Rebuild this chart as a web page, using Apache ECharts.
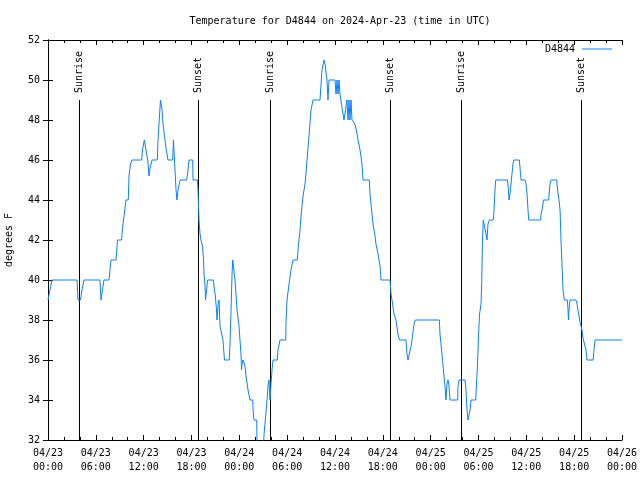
<!DOCTYPE html>
<html>
<head>
<meta charset="utf-8">
<script src="https://cdn.jsdelivr.net/npm/echarts@6/dist/echarts.min.js"></script>
<style>html,body{margin:0;padding:0;background:#fff}#c{width:640px;height:480px}</style>
</head>
<body>
<div id="c"></div>
<script>
// Hours since 2024-04-23 00:00 UTC
var hours = [0,0.25,0.5,3.64,3.76,4.08,4.26,4.52,6.52,6.65,6.84,7.02,7.65,7.90,8.53,8.72,9.22,9.41,9.66,9.78,
10.07,10.16,10.35,10.54,11.75,11.85,12.08,12.29,12.51,12.67,12.80,13.05,13.71,13.80,13.92,14.11,14.30,14.43,14.61,14.80,
15.05,15.64,15.74,15.93,16.06,16.18,16.31,16.56,17.40,17.56,17.69,18.15,18.19,18.73,18.82,18.88,18.94,19.07,19.19,19.38,
19.51,19.57,19.69,19.76,19.88,20.01,20.74,20.82,20.99,21.14,21.20,21.32,21.45,21.58,21.95,22.08,22.14,22.74,22.83,22.96,
23.08,23.17,23.33,23.46,23.71,23.96,24.08,24.21,24.27,24.34,24.46,24.71,24.84,25.09,25.34,25.68,25.72,25.84,26.18,26.22,
26.34,26.97,27.10,27.35,27.47,27.60,27.72,27.85,27.97,28.10,28.22,28.76,28.85,29.10,29.82,29.85,29.98,30.23,30.48,30.73,
31.27,31.36,31.61,31.74,31.86,31.99,32.24,32.36,32.49,32.80,32.99,33.24,34.12,34.25,34.37,34.62,34.75,34.87,35.00,35.12,
35.25,36.00,36.13,36.25,36.38,36.50,36.63,36.88,37.00,37.13,37.38,37.50,37.63,37.76,37.88,38.01,38.13,38.26,38.51,38.76,
38.89,39.14,39.39,39.51,40.30,40.39,40.64,40.77,41.02,41.14,41.40,41.52,41.65,41.77,42.90,43.03,43.15,43.28,43.40,43.65,
43.90,44.09,44.91,45.03,45.16,45.41,45.54,45.66,45.91,46.08,49.09,49.17,49.42,49.55,49.67,49.80,49.92,50.05,50.18,50.30,
50.43,51.39,51.43,51.56,52.31,52.43,52.56,52.69,52.81,52.94,53.06,53.65,53.75,53.88,54.00,54.13,54.32,54.41,54.50,54.60,
54.82,54.94,55.07,55.19,55.36,55.86,55.95,56.07,56.16,57.62,57.70,57.83,57.95,58.08,58.20,58.33,58.42,59.12,59.21,59.33,
59.84,59.96,60.09,60.21,60.30,61.80,61.84,61.97,62.09,62.13,62.81,62.85,62.97,63.10,63.81,63.85,63.98,64.10,64.23,64.35,
64.48,64.60,64.77,65.14,65.23,65.29,65.36,65.48,66.23,66.36,66.48,66.61,66.73,66.86,66.98,67.11,67.23,67.36,67.49,67.61,
68.37,68.49,68.62,72.0];
var temps = [39,39.5,40,40,39,39,39.5,40,40,39,39,40,40,41,41,42,42,42.8,43.6,44,
44,45.2,45.8,46,46,46.5,47,46.5,46,45.2,45.6,46,46,47,47.8,49,48.5,47.8,47.2,46.6,
46,46,47,45.5,44.5,44,44.5,45,45,45.5,46,46,45,45,44.5,43.7,43,42.3,42,41.7,
41,40.3,39.8,39,39.4,40,40,39.7,39.2,38.5,38,38.7,39,37.7,37,36.3,36,36,36.8,38.5,
40.2,41,41,40,38.5,37.7,37,36.3,35.5,35.8,36,35.7,35.2,34.5,34,34,33.5,33,33,32,
31,31,32.3,33.4,34,34.7,35,34,34.8,35.5,36,36,36.5,37,37,37.8,39,39.8,40.5,41,
41,41.5,42.5,43.2,43.7,44.2,44.8,45.3,46,47.5,48.5,49,49,49.8,50.5,51,50.8,50.4,50,49,
50,50,49.3,50,49.3,50,49.3,49.3,48.3,48,48,49,48,49,48,49,48,48,47.8,47.3,
47,46.5,45.8,45,45,44.3,43.3,42.8,42.2,41.8,41.3,41,40.7,40,40,39.3,39,39,38.3,38,
37.3,37,37,36.3,36,36,36.7,37,37.8,38,38,37.3,36.3,35.7,35.2,34.7,34,34.8,35,34.7,
34,34,34.7,35,35,34.5,33.5,33,33,33.5,34,34,34.8,35.8,37.2,38.3,38.8,40,42,43,
43,42.3,42,42.8,43,43,43.5,44.5,45,45,44.8,44,44.3,44.8,45.3,45.8,46,46,45.6,45,
45,44.8,44.3,43.5,43,43,43.3,43.5,43.8,44,44,44.3,44.8,45,45,44.8,44.3,44,43.5,42,
40.7,39.5,39,39,38.5,38,38.5,39,39,38.8,38.5,38.2,37.9,37.8,37.5,37.1,36.9,36.8,36.5,36,
36,36.5,37,37];
var sunHours = [3.89, 18.82, 27.85, 42.90, 51.81, 66.98];
var sunLabels = ['Sunrise','Sunset','Sunrise','Sunset','Sunrise','Sunset'];
var xTicks = [0, 72, 6];   // min, max, interval (hours)
var yTicks = [32, 52, 2];  // min, max, interval (degrees F)

var FONT = 'DejaVu Sans Mono';
function pad(n){return (n<10?'0':'')+n;}
function xLabel(v){
  var d = 23 + Math.floor(v/24);
  var hh = Math.round(v % 24);
  return '04/' + pad(d) + '\n' + pad(hh) + ':00';
}
var lineData = hours.map(function(h,i){return [h, temps[i]];});
var axisLine = {show:true, lineStyle:{color:'#000', width:1}};

var chart = echarts.init(document.getElementById('c'), null, {renderer:'canvas'});
chart.setOption({
  animation:false,
  backgroundColor:'#fff',
  title:{text:'Temperature for D4844 on 2024-Apr-23 (time in UTC)', left:335, top:11, textAlign:'center',
    textStyle:{fontFamily:FONT, fontSize:10, fontWeight:'normal', color:'#000'}},
  legend:{data:['D4844'], right:23, top:39, align:'right', icon:'rect', itemWidth:30, itemHeight:1,
    itemGap:5, textStyle:{fontFamily:FONT, fontSize:10, color:'#000', padding:[0,2,0,0]}},
  grid:{left:48, right:18, top:40, bottom:40, containLabel:false, outerBoundsMode:'none'},
  xAxis:[{type:'value', min:xTicks[0], max:xTicks[1], interval:xTicks[2], position:'bottom',
      axisLine:axisLine, splitLine:{show:false},
      axisTick:{show:true, inside:true, length:5, lineStyle:{color:'#000'}},
      minorTick:{show:true, splitNumber:3, length:3, lineStyle:{color:'#000'}},
      axisLabel:{formatter:xLabel, fontFamily:FONT, fontSize:10, color:'#000', margin:6, lineHeight:14}},
    {type:'value', min:xTicks[0], max:xTicks[1], interval:xTicks[2], position:'top',
      axisLine:axisLine, splitLine:{show:false}, axisLabel:{show:false},
      axisTick:{show:true, inside:true, length:5, lineStyle:{color:'#000'}},
      minorTick:{show:true, splitNumber:3, length:3, lineStyle:{color:'#000'}}}],
  yAxis:[{type:'value', min:yTicks[0], max:yTicks[1], interval:yTicks[2], position:'left',
      name:'degrees F', nameLocation:'middle', nameGap:34,
      nameTextStyle:{fontFamily:FONT, fontSize:10, color:'#000'},
      axisLine:axisLine, splitLine:{show:false},
      axisTick:{show:true, inside:true, length:5, lineStyle:{color:'#000'}},
      axisLabel:{fontFamily:FONT, fontSize:10, color:'#000', margin:8}},
    {type:'value', min:yTicks[0], max:yTicks[1], interval:yTicks[2], position:'right',
      axisLine:axisLine, splitLine:{show:false}, axisLabel:{show:false},
      axisTick:{show:true, inside:true, length:5, lineStyle:{color:'#000'}}}],
  series:[
    {name:'D4844', type:'line', data:lineData, showSymbol:false, symbol:'none',
      lineStyle:{color:'#0a80ff', width:1}, itemStyle:{color:'#0a80ff'}, clip:true, z:3},
    {name:'sun', type:'custom', clip:false, z:2,
      data:sunHours.map(function(h){return [h, 49];}),
      renderItem:function(params, api){
        var top = api.coord([api.value(0), api.value(1)]);
        var bot = api.coord([api.value(0), yTicks[0]]);
        var cx = Math.floor(top[0]) + 0.5;
        return {type:'group', children:[
          {type:'line', shape:{x1:cx, y1:Math.round(top[1]), x2:cx, y2:Math.round(bot[1])}, style:{stroke:'#000', lineWidth:1}},
          {type:'text', x:cx, y:top[1]-7, rotation:Math.PI/2,
            style:{text:sunLabels[params.dataIndex], fill:'#000', font:'10px "DejaVu Sans Mono"', align:'left', verticalAlign:'middle'}}
        ]};
      }}
  ]
});
</script>
</body>
</html>
